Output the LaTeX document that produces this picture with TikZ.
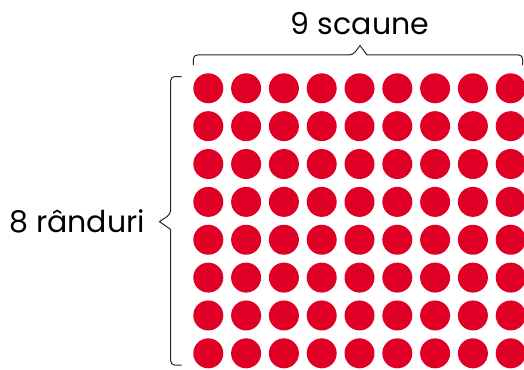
\documentclass[tikz,border=0pt]{standalone}
\usepackage{fontspec}
\setmainfont{Poppins}
\definecolor{dotred}{HTML}{E10025}
\begin{document}
\begin{tikzpicture}[x=1pt,y=-1pt,
  dot/.style={fill=dotred,draw=none},
  bracket/.style={draw=black!85,line width=1pt,rounded corners=4pt},
  lbl/.style={font=\fontsize{30}{35}\selectfont,inner sep=0pt}]
\useasboundingbox (0,0) rectangle (524,369);
\foreach \i in {0,...,8}{
  \foreach \j in {0,...,7}{
    \fill[dot] (208.3+37.8*\i, 88.3+37.86*\j) circle (15);
  }
}
% top brace
\coordinate (t1) at (193.3,65);
\coordinate (t2) at (522.7,65);
\draw[bracket] (t1) -- (193.3,55) -- (353,55) [rounded corners=0pt] -- (360,45.5) -- (367,55) [rounded corners=4pt] -- (522.7,55) -- (t2);
% left brace
\coordinate (l1) at (181.7,76.5);
\coordinate (l2) at (181.7,365);
\draw[bracket] (l1) -- (170.7,76.5) -- (170.7,214) [rounded corners=0pt] -- (159.5,221.7) -- (170.7,229.4) [rounded corners=4pt] -- (170.7,365) -- (l2);
\node[lbl,anchor=base] (top) at (360,35) {9 scaune};
\node[lbl,anchor=base east] (left) at (145,232) {8 rânduri};
\end{tikzpicture}
\end{document}
